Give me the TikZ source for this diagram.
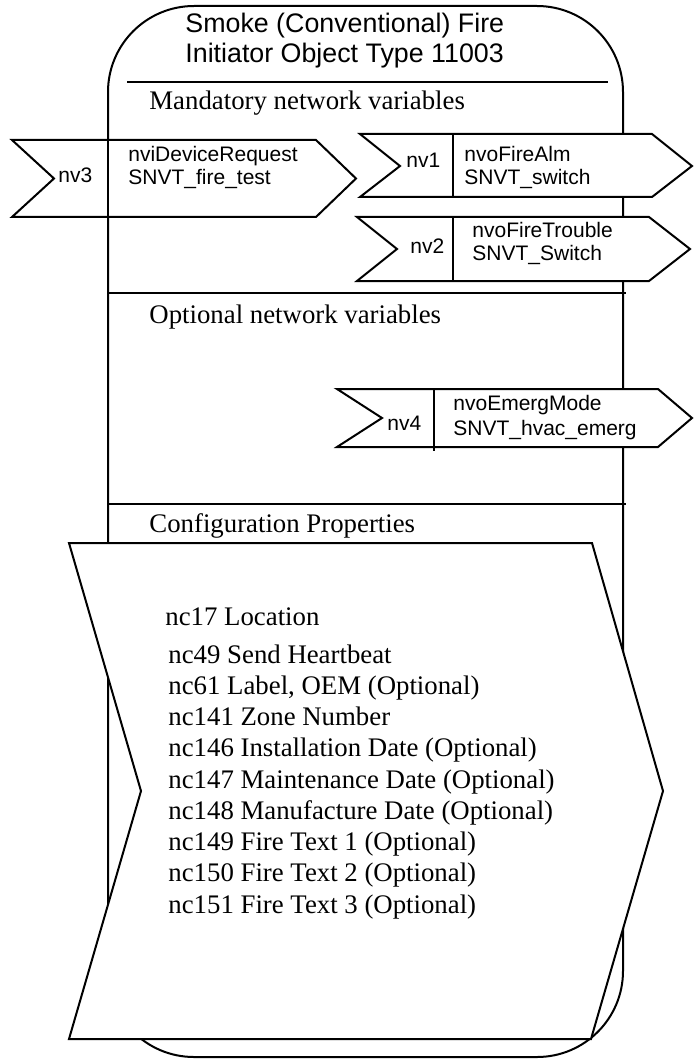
\documentclass[tikz,border=0pt]{standalone}
\usepackage{fontspec}
\setmainfont{Liberation Serif}
\setsansfont{Liberation Sans}
\tikzset{
    boxline/.style={line width=1pt},
    nvshape/.style={line width=1pt,fill=white,line join=miter},
    titletext/.style={anchor=base west,inner sep=0pt,font=\sffamily\fontsize{13.4}{15}\selectfont},
    nvtext/.style={anchor=base west,inner sep=0pt,font=\sffamily\fontsize{10.5}{12}\selectfont},
    sectext/.style={anchor=base west,inner sep=0pt,font=\rmfamily\fontsize{13.4}{15}\selectfont},
}
\begin{document}
\begin{tikzpicture}[x=0.5pt,y=-0.5pt]
                \useasboundingbox (0,0) rectangle (693,1059);
                %% object box
                \draw[boxline,rounded corners=43pt] (108,6) rectangle (623,1057);
                \node[titletext] (title1) at (185,33) {Smoke (Conventional) Fire};
                \node[titletext] (title2) at (185,63) {Initiator Object Type 11003};
                \draw[boxline] (127,82) -- (608,82);
                %% mandatory
                \node[sectext] (mand) at (149,110) {Mandatory network variables};
                %% nv3 input
                \draw[nvshape] (12,140) -- (316,140) -- (356,178.5) -- (316,217) -- (12,217) -- (54,178.5) -- cycle;
                \draw[boxline] (108,140) -- (108,217);
                \node[nvtext] (nv3) at (58,183) {nv3};
                \node[nvtext] (nv3a) at (128,162) {nviDeviceRequest};
                \node[nvtext] (nv3b) at (128,185) {SNVT\_fire\_test};
                %% nv1 output
                \draw[nvshape] (360,134) -- (652,134) -- (692,166) -- (652,197) -- (360,197) -- (400,166) -- cycle;
                \draw[boxline] (453,134) -- (453,197);
                \node[nvtext] (nv1) at (406,168) {nv1};
                \node[nvtext] (nv1a) at (464,162) {nvoFireAlm};
                \node[nvtext] (nv1b) at (464,185) {SNVT\_switch};
                %% nv2 output
                \draw[nvshape] (357,217) -- (649,217) -- (690,249) -- (649,281) -- (357,281) -- (397,249) -- cycle;
                \draw[boxline] (453,217) -- (453,281);
                \node[nvtext] (nv2) at (410,253) {nv2};
                \node[nvtext] (nv2a) at (472,237) {nvoFireTrouble};
                \node[nvtext] (nv2b) at (472,260) {SNVT\_Switch};
                %% optional
                \draw[boxline] (108,293) -- (626,293);
                \node[sectext] (opt) at (149,323) {Optional network variables};
                %% nv4 output
                \draw[nvshape] (337,389) -- (658,389) -- (692,418) -- (658,447) -- (337,447) -- (382,418) -- cycle;
                \draw[boxline] (434,389) -- (434,451);
                \node[nvtext] (nv4) at (387,430) {nv4};
                \node[nvtext] (nv4a) at (453,410) {nvoEmergMode};
                \node[nvtext] (nv4b) at (453,435) {SNVT\_hvac\_emerg};
                %% configuration
                \draw[boxline] (108,504) -- (626,504);
                \node[sectext] (conf) at (149,532) {Configuration Properties};
                \draw[nvshape] (69,543) -- (592,543) -- (663,791) -- (591,1039) -- (69,1039) -- (141,791) -- cycle;
                \node[sectext] (nc17) at (165,625) {nc17 Location};
                \foreach \txt [count=\i from 0] in {nc49 Send Heartbeat, {nc61 Label, OEM (Optional)}, nc141 Zone Number,
                    nc146 Installation Date (Optional), nc147 Maintenance Date (Optional), nc148 Manufacture Date (Optional),
                    nc149 Fire Text 1 (Optional), nc150 Fire Text 2 (Optional), nc151 Fire Text 3 (Optional)}
                    \node[sectext] (cp\i) at (168,663+31.25*\i) {\txt};
            \end{tikzpicture}
\end{document}
